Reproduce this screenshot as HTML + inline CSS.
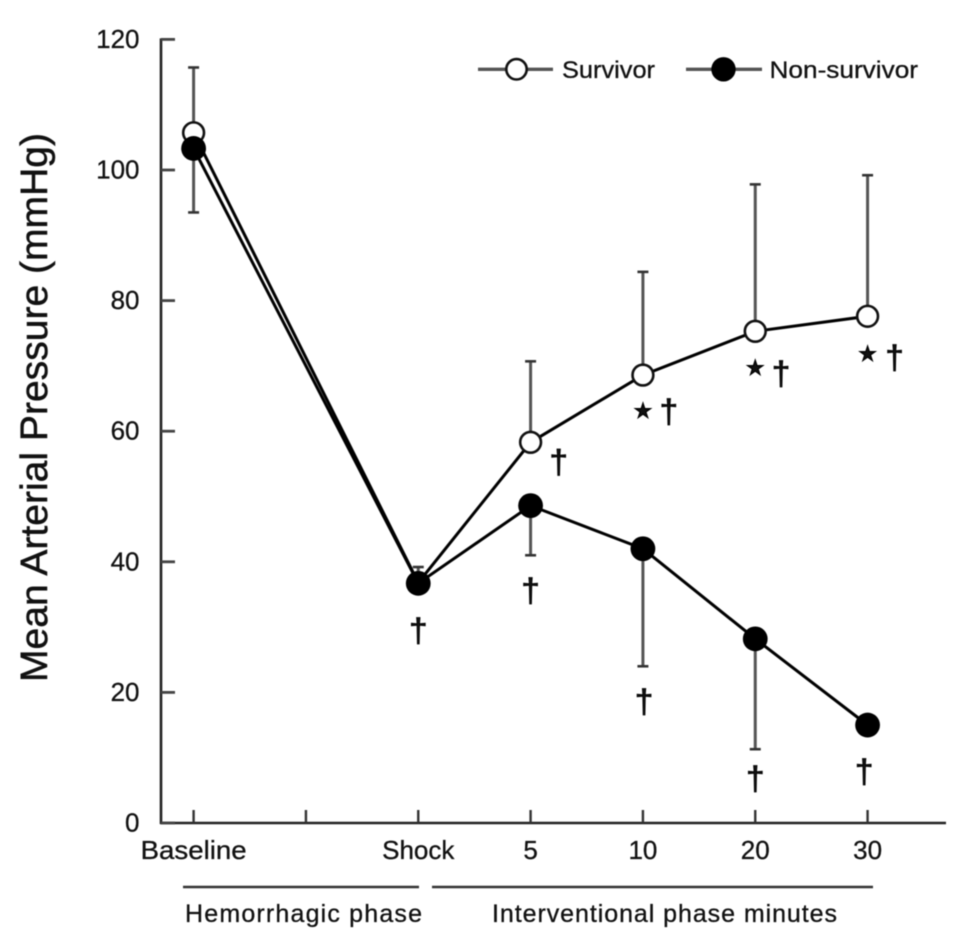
<!DOCTYPE html>
<html>
<head>
<meta charset="utf-8">
<style>
html,body{margin:0;padding:0;background:#fff}
svg{display:block}
text{font-family:"Liberation Sans",sans-serif;fill:#111;stroke:#111;stroke-width:.3px}
</style>
</head>
<body>
<svg id="chart" width="960" height="941" viewBox="0 0 960 941" xmlns="http://www.w3.org/2000/svg">
<g id="root" style="filter:blur(.55px)"></g>
</svg>
<script>
const categories = ['Baseline', '', 'Shock', '5', '10', '20', '30'];
const yTicks = [0, 20, 40, 60, 80, 100, 120];
const survivorValues = [105.7, null, 36.8, 58.3, 68.6, 75.3, 77.6];
const nonSurvivorValues = [103.3, null, 36.7, 48.6, 42, 28.2, 15];
const survivorErrorTop = [115.7, null, 39.2, 70.7, 84.4, 97.8, 99.2];
const nonSurvivorErrorBottom = [93.5, null, null, 41, 24, 11.3, null];
const daggerSlots = [2, 3, 3.25, 4.01, 4.23, 5, 5.23, 5.97, 6.24];
const daggerValues = [29.6, 35.7, 55.4, 18.7, 63.1, 6.9, 68.9, 8.0, 71.4];
const starSlots = [4, 5, 6];
const starValues = [63.1, 69.7, 71.8];

const NS = 'http://www.w3.org/2000/svg';
const root = document.getElementById('root');
function x(i) { return 193.6 + i * 112.33; }
function y(v) { return 823 - v * 6.53; }
function add(tag, attrs, text) {
  const el = document.createElementNS(NS, tag);
  for (const k in attrs) el.setAttribute(k, attrs[k]);
  if (text !== undefined) el.textContent = text;
  root.appendChild(el);
  return el;
}
function line(x1, y1, x2, y2, stroke, w) {
  return add('line', { x1: x1, y1: y1, x2: x2, y2: y2, stroke: stroke, 'stroke-width': w });
}

// axes
let el = line(161, y(120) - 1, 161, 824, '#222', 2.6);


el = line(160, 823, 946, 823, '#222', 2.6);



yTicks.forEach(function (t) {
  const tick = line(161, y(t), 175, y(t), '#444', 2.8);
  
  
  const lab = add('text', { x: 139.5, y: y(t) + 8.5, 'text-anchor': 'end', 'font-size': 26 }, t);
  
  
});
categories.forEach(function (c, i) {
  const tick = line(x(i), 810, x(i), 823, '#333', 2.4);
  
  
  if (c) {
    const lab = add('text', { x: x(i), y: 859, 'text-anchor': 'middle', 'font-size': 26 }, c);
    if (i === 0) {
      lab.setAttribute('textLength', 106);
      lab.setAttribute('lengthAdjust', 'spacingAndGlyphs');
    }
    
    
  }
});

// y title
el = add('text', { transform: 'translate(47,682) rotate(-90)', 'font-size': 38, textLength: 549, lengthAdjust: 'spacingAndGlyphs', style: 'stroke-width:.5px' }, 'Mean Arterial Pressure (mmHg)');



// phase brackets
el = line(183, 887, 419, 887, '#333', 2.6);


el = line(432, 887, 873, 887, '#333', 2.6);


el = add('text', { x: 185, y: 922, 'font-size': 25, textLength: 237, lengthAdjust: 'spacing', 'xml:space': 'preserve' }, 'Hemorrhagic  phase');


el = add('text', { x: 492, y: 922, 'font-size': 25, textLength: 345, lengthAdjust: 'spacing', 'xml:space': 'preserve' }, 'Interventional  phase  minutes');



// error bars
survivorErrorTop.forEach(function (v, i) {
  if (v === null) return;
  const bar = line(x(i), y(v), x(i), y(survivorValues[i]), '#555', 3);
  
  
  const cap = line(x(i) - 5.5, y(v), x(i) + 5.5, y(v), '#333', 2.6);
  
  
});
nonSurvivorErrorBottom.forEach(function (v, i) {
  if (v === null) return;
  const bar = line(x(i), y(nonSurvivorValues[i]), x(i), y(v), '#555', 3);
  
  
  const cap = line(x(i) - 5.5, y(v), x(i) + 5.5, y(v), '#333', 2.6);
  
  
});

// series lines
function pathFor(vals) {
  const pts = [];
  vals.forEach(function (v, i) { if (v !== null) pts.push(x(i) + ',' + y(v)); });
  return pts.join(' ');
}
el = add('polyline', { points: pathFor(survivorValues), fill: 'none', stroke: '#000', 'stroke-width': 3 });


el = add('polyline', { points: pathFor(nonSurvivorValues), fill: 'none', stroke: '#000', 'stroke-width': 3 });



// points
survivorValues.forEach(function (v, i) {
  if (v === null) return;
  const p = add('circle', { cx: x(i), cy: y(v), r: 10.4, fill: '#fff', stroke: '#111', 'stroke-width': 2.6 });
  
  
});
nonSurvivorValues.forEach(function (v, i) {
  if (v === null) return;
  const p = add('circle', { cx: x(i), cy: y(v), r: 12.4, fill: '#000' });
  
  
});

// significance markers
daggerSlots.forEach(function (s, i) {
  const d = add('text', { x: x(s), y: y(daggerValues[i]) + 11.6, 'text-anchor': 'middle', 'font-size': 33, style: 'stroke:#000;stroke-width:.8px' }, '†');
  
  
});
starSlots.forEach(function (s, i) {
  const d = add('text', { x: x(s), y: y(starValues[i]) + 6.5, 'text-anchor': 'middle', 'font-size': 20, style: 'font-family:"DejaVu Sans",sans-serif;stroke:#000;stroke-width:1.2px' }, '★');
  
  
});

// legend
el = line(478, 69.3, 553, 69.3, '#555', 3.4);


el = add('circle', { cx: 516.5, cy: 69.3, r: 10.2, fill: '#fff', stroke: '#111', 'stroke-width': 2.6 });


el = add('text', { x: 562, y: 78, 'font-size': 24, textLength: 93, lengthAdjust: 'spacingAndGlyphs' }, 'Survivor');


el = line(686, 69.3, 762, 69.3, '#555', 3.4);


el = add('circle', { cx: 723.5, cy: 69.3, r: 12.2, fill: '#000' });


el = add('text', { x: 769.5, y: 78, 'font-size': 24, textLength: 148.5, lengthAdjust: 'spacingAndGlyphs' }, 'Non-survivor');


</script>
</body>
</html>
